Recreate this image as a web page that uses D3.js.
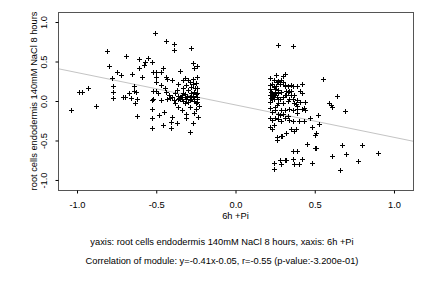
<!DOCTYPE html>
<html>
<head>
<meta charset="utf-8">
<script src="https://cdn.jsdelivr.net/npm/d3@7"></script>
<style>
  body { margin: 0; background: #fff; }
  svg text { font-family: "Liberation Sans", Arial, sans-serif; font-size: 9.3px; fill: #000; }
</style>
</head>
<body>
<div id="chart"></div>
<script>

// left cluster (6h +Pi below zero)
var leftX = [-1.04,-0.99,-0.97,-0.93,-0.88,-0.81,-0.80,-0.78,-0.77,-0.77,-0.77,-0.745,-0.72,-0.71,-0.70,-0.69,-0.67,-0.66,-0.65,-0.64,
  -0.635,-0.64,-0.62,-0.62,-0.61,-0.61,-0.63,-0.59,-0.58,-0.57,-0.55,-0.53,-0.51,-0.53,-0.525,-0.53,-0.53,-0.52,-0.52,-0.52,
  -0.50,-0.50,-0.50,-0.50,-0.49,-0.48,-0.47,-0.47,-0.46,-0.47,-0.46,-0.45,-0.445,-0.44,-0.44,-0.43,-0.43,-0.42,-0.415,-0.41,
  -0.41,-0.40,-0.40,-0.39,-0.39,-0.39,-0.38,-0.37,-0.37,-0.365,-0.36,-0.35,-0.35,-0.34,-0.335,-0.33,-0.33,-0.32,-0.32,-0.31,
  -0.31,-0.305,-0.30,-0.30,-0.29,-0.29,-0.285,-0.28,-0.28,-0.27,-0.27,-0.27,-0.265,-0.26,-0.255,-0.25,-0.245,-0.24,-0.24,-0.235,
  -0.23,-0.24,-0.265,-0.36,-0.355,-0.345,-0.34,-0.33,-0.32,-0.31,-0.30,-0.29,-0.28,-0.27,-0.26,-0.25,-0.245,-0.24,-0.26,-0.28,
  -0.27,-0.25,-0.24,-0.31,-0.38,-0.40,-0.44,-0.36,-0.25,-0.29,-0.32,-0.33];
var leftY = [-0.11,0.11,0.11,0.16,-0.06,0.63,0.44,0.29,0.19,0.11,0.04,0.37,0.33,0.055,0.055,0.57,0.10,0.04,0.34,0.13,
  -0.03,0.19,-0.19,0.03,0.53,0.42,0.12,0.30,0.46,0.49,0.55,0.49,0.86,0.01,-0.10,-0.22,-0.34,0.03,0.13,0.37,
  0.24,0.31,0.37,0.13,0.10,-0.18,0.01,0.37,0.42,0.20,-0.31,-0.14,0.16,0.30,0.76,0.28,0.02,0.08,0.04,-0.27,
  -0.34,-0.20,0.27,0.72,0.65,0.01,-0.03,-0.28,0.14,0.03,0.22,0.38,0.03,-0.11,0.07,0.17,0.27,-0.03,0.05,-0.17,
  -0.22,0.06,0.14,0.27,0.01,-0.39,-0.07,0.18,0.67,0.48,0.28,-0.28,0.03,0.42,0.17,-0.03,0.31,0.16,0.02,-0.20,
  -0.06,0.44,-0.15,0.06,0.04,0.05,0.02,0.00,0.09,0.03,-0.01,0.05,0.02,0.06,0.00,0.09,0.05,-0.01,0.12,0.10,
  0.21,0.23,0.10,0.20,0.10,0.05,0.12,-0.07,-0.10,0.24,0.29,0.10];

// right cluster (6h +Pi above zero)
var rightX = [0.27,0.36,0.55,0.255,0.31,0.30,0.22,0.24,0.255,0.315,0.33,0.36,0.39,0.42,0.32,0.34,0.41,0.42,0.44,0.37,
  0.38,0.39,0.39,0.42,0.44,0.52,0.59,0.60,0.61,0.64,0.69,0.53,0.48,0.51,0.50,0.22,0.23,0.24,0.26,0.265,
  0.285,0.295,0.35,0.32,0.37,0.38,0.45,0.50,0.51,0.36,0.39,0.67,0.80,0.70,0.90,0.61,0.77,0.36,0.42,0.32,
  0.28,0.31,0.24,0.285,0.37,0.40,0.48,0.24,0.66,
  0.22,0.24,0.31,0.35,0.27,0.33,0.35,0.22,0.24,0.27,0.30,0.31,0.35,0.37,0.22,0.27,0.30,0.33,0.37,0.39,0.41,0.43,
  0.22,0.23,0.25,0.27,0.29,0.31,0.34,0.36,0.39,0.22,0.23,0.25,0.27,0.29,0.31,0.34,0.36,0.40,0.43,0.47,
  0.22,0.225,0.23,0.22,0.225,0.23,0.235,0.24,0.245,0.25,0.26,0.27,0.28,0.29,0.25,0.26,0.27,0.28,0.29,0.30,
  0.24,0.23,0.30,0.32,0.34,0.36,0.26,0.25,0.28,0.30,0.33];
var rightY = [0.71,0.70,0.28,0.33,0.34,0.32,0.29,0.19,0.19,0.19,0.19,0.19,0.19,0.21,0.13,0.13,0.13,0.10,-0.01,0.07,
  -0.04,-0.06,-0.10,-0.10,-0.12,-0.18,-0.03,-0.05,-0.08,0.06,-0.13,-0.29,-0.33,-0.41,-0.43,-0.33,-0.35,-0.31,-0.49,-0.46,
  -0.44,-0.44,-0.35,-0.40,-0.38,-0.36,-0.54,-0.59,-0.59,-0.63,-0.63,-0.56,-0.56,-0.67,-0.66,-0.70,-0.76,-0.74,-0.74,-0.75,
  -0.75,-0.75,-0.79,-0.80,-0.80,-0.80,-0.79,-0.86,-0.87,
  0.20,0.18,0.20,0.20,0.14,0.12,0.13,0.08,0.08,0.03,0.05,0.08,0.08,-0.03,-0.01,-0.03,-0.02,0.00,-0.03,0.01,-0.01,-0.09,
  -0.09,-0.14,-0.11,-0.16,-0.11,-0.11,-0.10,-0.11,-0.15,-0.21,-0.24,-0.22,-0.23,-0.25,-0.21,-0.24,-0.25,-0.25,-0.25,-0.22,
  0.15,0.12,0.10,0.07,0.04,0.02,0.06,0.09,0.03,0.11,0.05,0.10,0.03,0.11,0.15,0.24,0.25,0.22,0.27,0.24,
  0.26,0.22,0.05,0.07,0.03,0.02,-0.05,-0.07,-0.18,-0.17,-0.19];

var xTicks = [-1, -0.5, 0, 0.5, 1];
var yTicks = [-1, -0.5, 0, 0.5, 1];
var tickLabels = ["-1.0", "-0.5", "0.0", "0.5", "1.0"];

// fit line from the caption
var slope = -0.41;
var intercept = -0.05;

var xLabel = "6h +Pi";
var yLabel = "root cells endodermis 140mM NaCl 8 hours";
var caption1 = "yaxis: root cells endodermis 140mM NaCl 8 hours, xaxis: 6h +Pi";
var caption2 = "Correlation of module: y=-0.41x-0.05, r=-0.55 (p-value:-3.200e-01)";

var W = 432, H = 288;
var plotL = 58, plotT = 12, plotR = 413, plotB = 190;

var svg = d3.select("#chart").append("svg")
  .attr("width", W)
  .attr("height", H);

var x = d3.scaleLinear().domain([-1.12, 1.12]).range([plotL, plotR]);
var y = d3.scaleLinear().domain([-1.127, 1.127]).range([plotB, plotT]);

// regression line
var xs = x.domain();
svg.append("line")
  .attr("x1", x(xs[0])).attr("y1", y(slope * xs[0] + intercept))
  .attr("x2", x(xs[1])).attr("y2", y(slope * xs[1] + intercept))
  .attr("stroke", "#c4c4c4")
  .attr("stroke-width", 1);

// points as plus signs
var pts = [];
leftX.forEach(function(v, i) { pts.push([v, leftY[i]]); });
rightX.forEach(function(v, i) { pts.push([v, rightY[i]]); });

svg.append("g").selectAll("path")
  .data(pts)
  .enter()
  .append("path")
  .attr("transform", function(d) {
    return "translate(" + (Math.round(x(d[0])) + 0.5) + "," + (Math.round(y(d[1])) + 0.5) + ")";
  })
  .attr("d", "M-2.5,0H2.5M0,-2.5V2.5")
  .attr("stroke", "#000")
  .attr("stroke-width", 1)
  .attr("fill", "none");

// box
svg.append("rect")
  .attr("x", plotL + 0.5).attr("y", plotT + 0.5)
  .attr("width", plotR - plotL).attr("height", plotB - plotT)
  .attr("fill", "none")
  .attr("stroke", "#555")
  .attr("stroke-width", 1);

// axes
var xAxis = svg.append("g")
  .attr("transform", "translate(0," + (plotB + 0.5) + ")")
  .call(d3.axisBottom(x).tickValues(xTicks).tickSize(3).tickPadding(8)
    .tickFormat(function(d, i) { return tickLabels[i]; }));
xAxis.select(".domain").remove();
xAxis.selectAll("text").attr("font-family", null).attr("font-size", null);
xAxis.attr("font-family", null).attr("font-size", null);

var yAxis = svg.append("g")
  .attr("transform", "translate(" + (plotL + 0.5) + ",0)")
  .call(d3.axisLeft(y).tickValues(yTicks).tickSize(3)
    .tickFormat(function(d, i) { return tickLabels[i]; }));
yAxis.select(".domain").remove();
yAxis.attr("font-family", null).attr("font-size", null);
yAxis.selectAll(".tick text")
  .attr("x", null).attr("dy", null)
  .attr("transform", "translate(-12,0) rotate(-90)")
  .attr("text-anchor", "middle");

// axis titles
svg.append("text")
  .attr("x", (plotL + plotR) / 2)
  .attr("y", 219)
  .attr("text-anchor", "middle")
  .text(xLabel);

svg.append("text")
  .attr("transform", "translate(37," + ((plotT + plotB) / 2) + ") rotate(-90)")
  .attr("text-anchor", "middle")
  .text(yLabel);

// captions
svg.append("text")
  .attr("x", 222).attr("y", 245)
  .attr("text-anchor", "middle")
  .text(caption1);

svg.append("text")
  .attr("x", 222).attr("y", 264)
  .attr("text-anchor", "middle")
  .text(caption2);

</script>
</body>
</html>
